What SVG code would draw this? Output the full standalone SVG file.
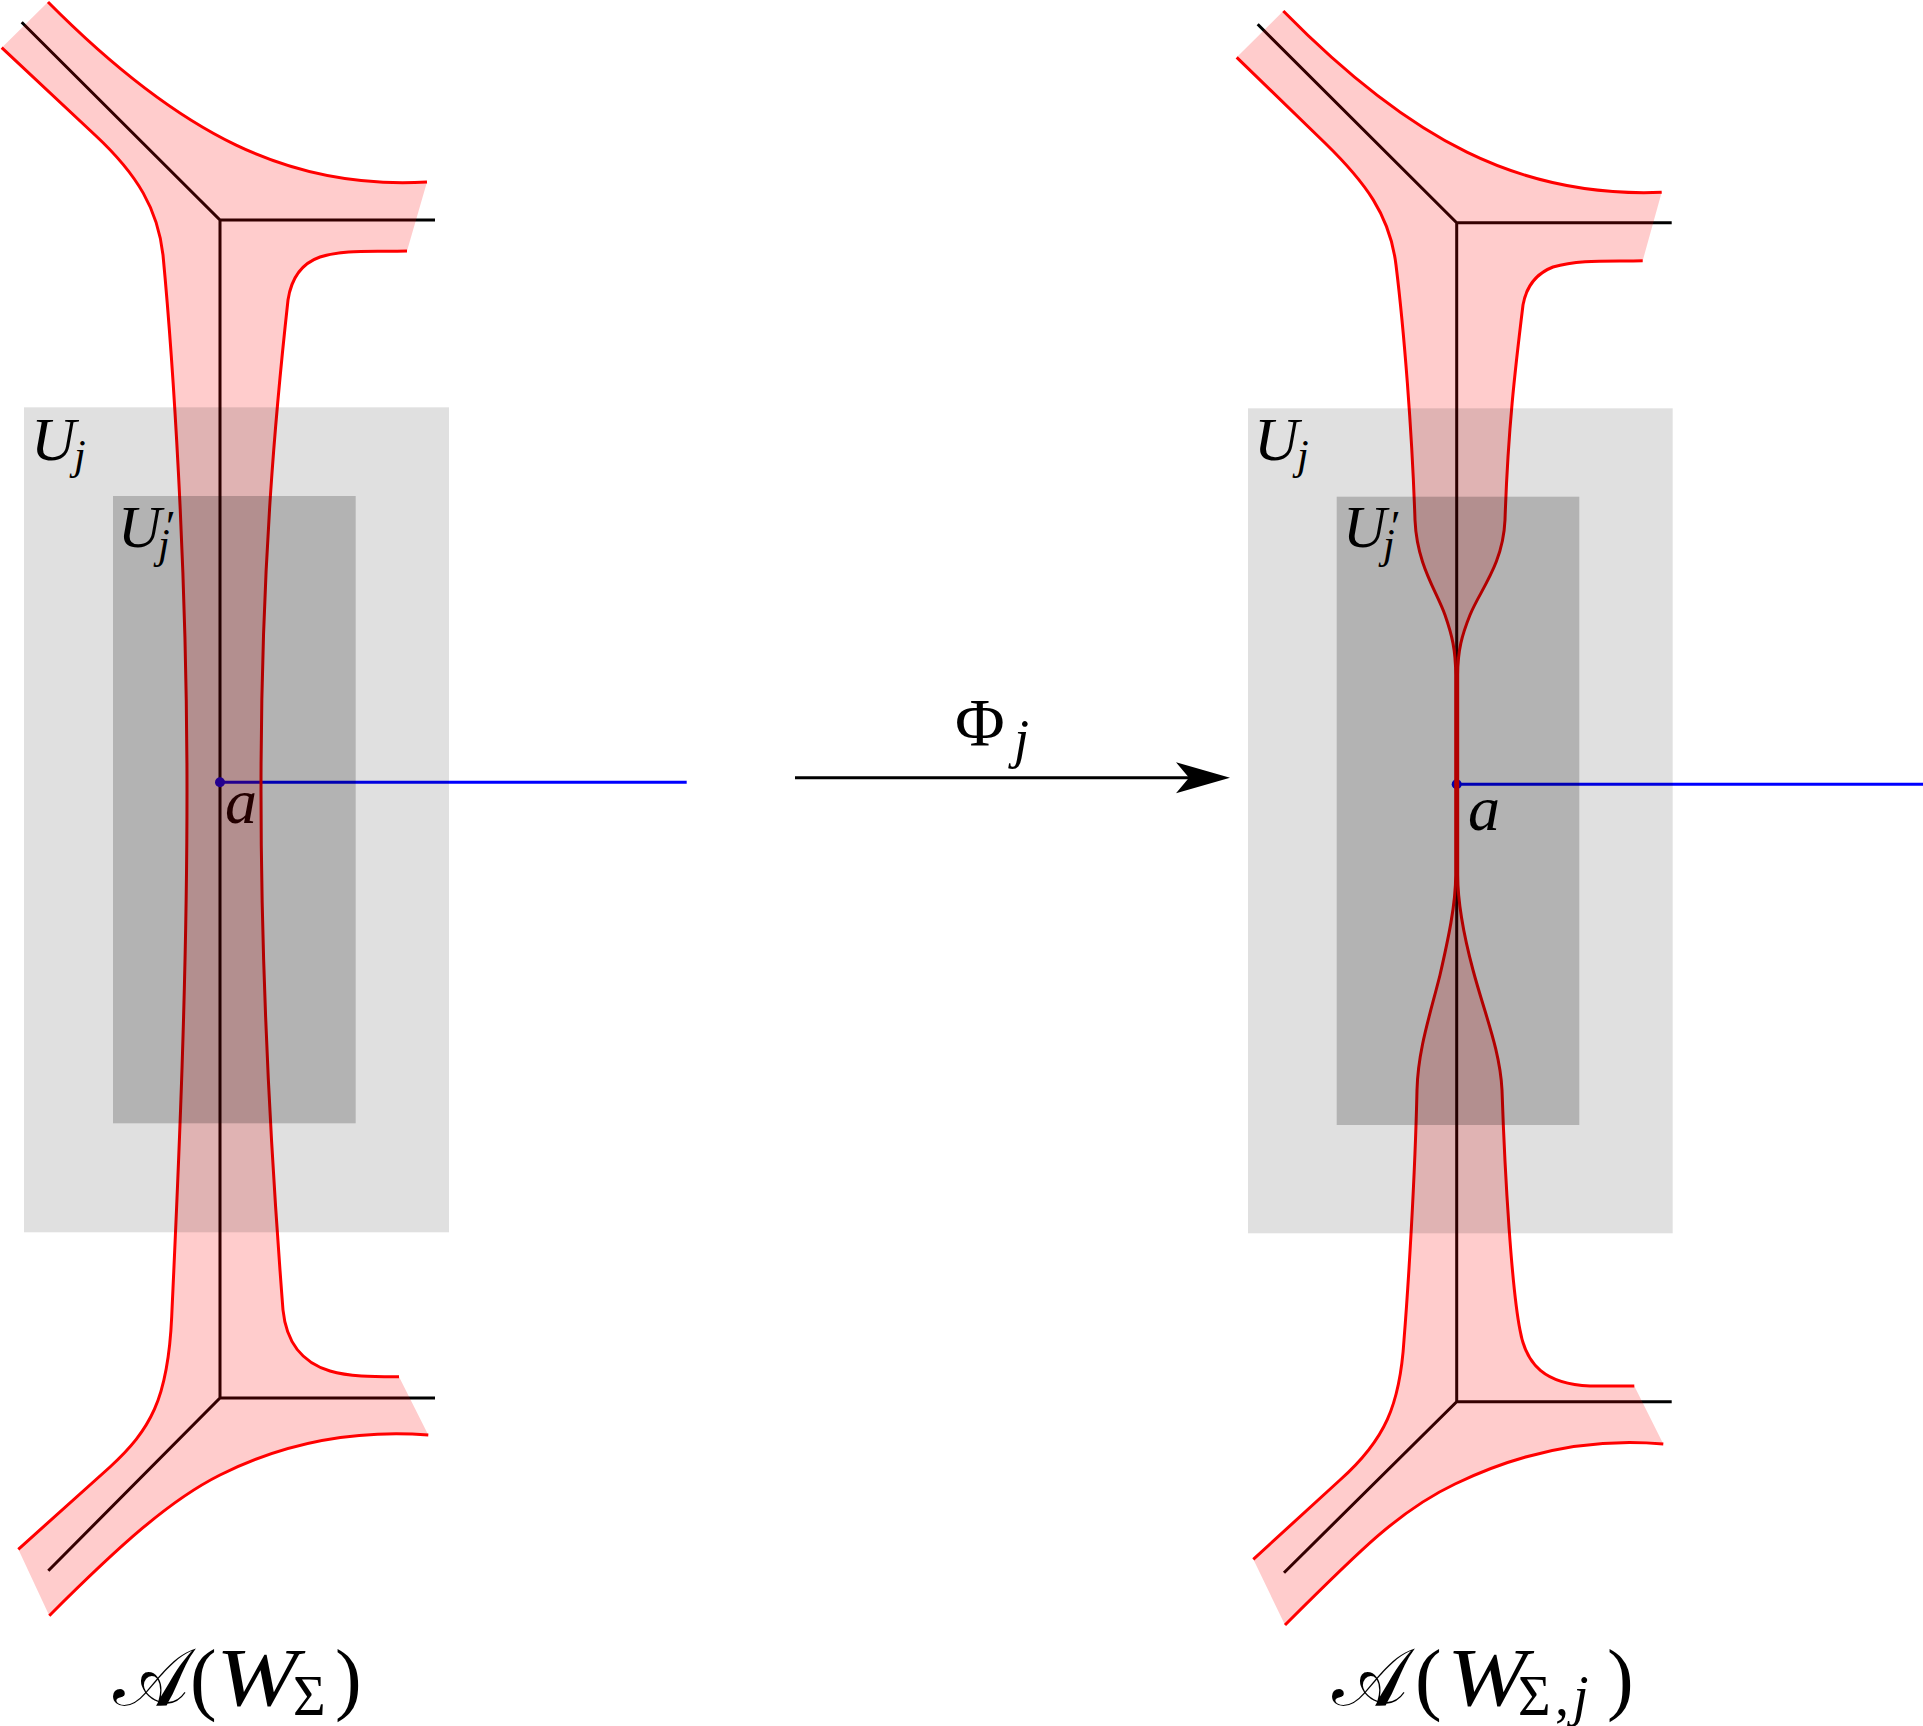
<svg xmlns="http://www.w3.org/2000/svg" width="1923" height="1726" viewBox="0 0 1923 1726">
<defs>
<style>
.bg{fill:#fff}
.lab{font-family:"Liberation Serif","DejaVu Serif",serif;fill:#000}
.it{font-style:italic}
.sk{fill:none;stroke:#000;stroke-width:3;stroke-linecap:butt}
.bl{fill:none;stroke:#0000ff;stroke-width:3}
.dot{fill:#0000ff}
.pk{fill:#ff0000;fill-opacity:0.2;stroke:none}
.rd{fill:none;stroke:#ff0000;stroke-width:3}
.gO{fill:#000;fill-opacity:0.12}
.gI{fill:#000;fill-opacity:0.2}
.arr{fill:none;stroke:#000;stroke-width:3}
</style>
<marker id="stealth" markerUnits="userSpaceOnUse" markerWidth="56" markerHeight="34" refX="24" refY="17" orient="auto" viewBox="0 0 56 34">
<path d="M54,17 L0,1.5 L13,17 L0,32.5 Z" fill="#000"/>
</marker>
</defs>
<rect class="bg" x="0" y="0" width="1923" height="1726"/>

<g id="labels">
<text class="lab it" x="31" y="460" font-size="62">U</text>
<text class="lab it" x="74" y="469" font-size="42">j</text>
<text class="lab it" x="118" y="546.7" font-size="60">U</text>
<text class="lab" x="166" y="541" font-size="44">′</text>
<text class="lab it" x="158" y="558" font-size="42">j</text>
<text class="lab it" x="225" y="823" font-size="64">a</text>

<text class="lab it" x="1254" y="460" font-size="62">U</text>
<text class="lab it" x="1297" y="469" font-size="42">j</text>
<text class="lab it" x="1343" y="546.7" font-size="60">U</text>
<text class="lab" x="1391" y="541" font-size="44">′</text>
<text class="lab it" x="1383" y="558" font-size="42">j</text>
<text class="lab it" x="1468" y="830" font-size="64">a</text>

<text class="lab" x="955" y="745" font-size="68">Φ</text>
<text class="lab it" x="1014" y="757" font-size="54">j</text>

<text class="lab" x="113" y="1705" font-size="80">𝒜</text>
<text class="lab" x="190" y="1705" font-size="80">(</text>
<text class="lab it" x="216" y="1705" font-size="82" textLength="82" lengthAdjust="spacingAndGlyphs">W</text>
<text class="lab" x="293" y="1715" font-size="56">Σ</text>
<text class="lab" x="335" y="1705" font-size="80">)</text>

<text class="lab" x="1332" y="1705" font-size="80">𝒜</text>
<text class="lab" x="1415" y="1705" font-size="80">(</text>
<text class="lab it" x="1447" y="1705" font-size="82" textLength="80" lengthAdjust="spacingAndGlyphs">W</text>
<text class="lab" x="1518" y="1715" font-size="56">Σ</text>
<text class="lab" x="1555" y="1715" font-size="56">,</text>
<text class="lab it" x="1573" y="1715" font-size="56">j</text>
<text class="lab" x="1607" y="1705" font-size="80">)</text>
</g>

<g id="skeleton-left">
<path class="sk" d="M21.7,22.3 L220,220 L435,220 M220,220 V1398 M48.3,1570.7 L220,1398 L435,1398"/>
</g>
<g id="skeleton-right">
<path class="sk" d="M1257.7,24.3 L1456.7,222.7 L1671.7,222.7 M1456.7,222.7 V1401.7 M1284,1572.7 L1456.7,1401.7 L1671.7,1401.7"/>
</g>

<g id="connectors">
<path class="bl" d="M220,782.3 H686.7"/>
<circle class="dot" cx="220" cy="782.3" r="5"/>
<path class="bl" d="M1456.7,784.3 H1923"/>
<circle class="dot" cx="1456.7" cy="784.3" r="5"/>
<path class="arr" d="M795,777.7 H1200" marker-end="url(#stealth)"/>
</g>

<g id="band-left">
<path class="pk" d="M48,2 C180,135 290,190 427,182 L407,251 C372,252 345,249 320,257 C300,264 291,280 288,300 C277,400 261,560 261,790 C261,1010 276,1220 283,1310 C286,1340 300,1362 330,1371 C350,1377 375,1376.7 399,1376.7 L428.3,1435 C360,1430 290,1440 220,1475 C170,1500 120,1545 49.3,1615.7 L18.3,1549.3 L110,1467 C150,1430 168,1400 171.7,1316.7 C177,1200 187,1000 187,790 C187,560 172,350 163,255 C158,210 138,175 95,135 L1.7,47.7 Z"/>
<path class="rd" d="M48,2 C180,135 290,190 427,182"/>
<path class="rd" d="M1.7,47.7 L95,135 C138,175 158,210 163,255 C172,350 187,560 187,790 C187,1000 177,1200 171.7,1316.7 C168,1400 150,1430 110,1467 L18.3,1549.3"/>
<path class="rd" d="M407,251 C372,252 345,249 320,257 C300,264 291,280 288,300 C277,400 261,560 261,790 C261,1010 276,1220 283,1310 C286,1340 300,1362 330,1371 C350,1377 375,1376.7 399,1376.7"/>
<path class="rd" d="M428.3,1435 C360,1430 290,1440 220,1475 C170,1500 120,1545 49.3,1615.7"/>
</g>

<g id="band-right">
<path class="pk" d="M1283.3,11 C1410,140 1520,198 1661.7,192.3 L1642.7,260.7 C1610,261.5 1580,259 1553,267 C1535,274 1526,288 1523,305 C1515,370 1508,430 1505,520 C1503,565 1480,590 1470,615 C1462,635 1457.7,650 1457.7,675 L1457.7,875 C1457.7,905 1465,940 1473,970 C1485,1015 1500,1050 1502,1090 C1505,1180 1512,1290 1520,1330 C1526,1365 1545,1384 1590,1386 L1634.3,1386 L1663.3,1444 C1595,1438 1525,1450 1455,1484 C1400,1510 1360,1550 1285,1625 L1253.3,1559.3 L1340,1480 C1385,1440 1400,1405 1404,1340 C1408,1290 1415,1180 1417,1090 C1418,1050 1430,1015 1440,975 C1448,940 1455.7,905 1455.7,875 L1455.7,675 C1455.7,650 1452,635 1445,615 C1436,590 1417,565 1415,520 C1412,430 1404,330 1396,265 C1390,215 1365,182 1325,143 L1236.7,57.3 Z"/>
<path class="rd" d="M1283.3,11 C1410,140 1520,198 1661.7,192.3"/>
<path class="rd" d="M1236.7,57.3 L1325,143 C1365,182 1390,215 1396,265 C1404,330 1412,430 1415,520 C1417,565 1436,590 1445,615 C1452,635 1455.7,650 1455.7,675 L1455.7,875 C1455.7,905 1448,940 1440,975 C1430,1015 1418,1050 1417,1090 C1415,1180 1408,1290 1404,1340 C1400,1405 1385,1440 1340,1480 L1253.3,1559.3"/>
<path class="rd" d="M1642.7,260.7 C1610,261.5 1580,259 1553,267 C1535,274 1526,288 1523,305 C1515,370 1508,430 1505,520 C1503,565 1480,590 1470,615 C1462,635 1457.7,650 1457.7,675 L1457.7,875 C1457.7,905 1465,940 1473,970 C1485,1015 1500,1050 1502,1090 C1505,1180 1512,1290 1520,1330 C1526,1365 1545,1384 1590,1386 L1634.3,1386"/>
<path class="rd" d="M1663.3,1444 C1595,1438 1525,1450 1455,1484 C1400,1510 1360,1550 1285,1625"/>
</g>

<g id="U-left">
<rect class="gO" x="24" y="407.3" width="425" height="825"/>
</g>
<g id="Uprime-left">
<rect class="gI" x="113" y="496" width="242.7" height="627.3"/>
</g>
<g id="U-right">
<rect class="gO" x="1248" y="408.3" width="424.7" height="825"/>
</g>
<g id="Uprime-right">
<rect class="gI" x="1336.7" y="496.7" width="242.6" height="628.3"/>
</g>
</svg>
